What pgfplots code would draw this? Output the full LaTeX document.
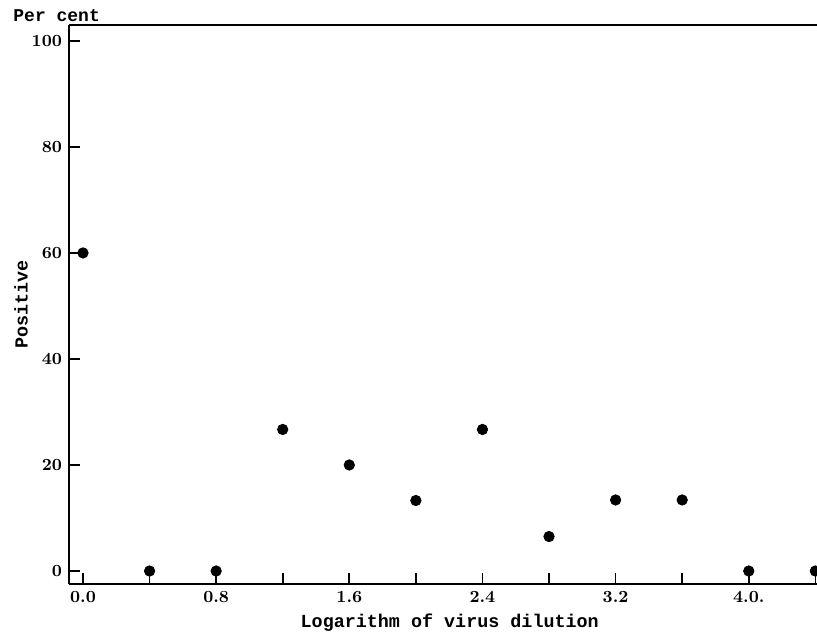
\documentclass[border=0pt]{standalone}
\usepackage{fontspec}
\usepackage{pgfplots}
\pgfplotsset{compat=1.18}
\newfontfamily\labfont{Liberation Mono}
\begin{document}
\begin{tikzpicture}
\begin{axis}[
  name=ax,
  scale only axis=true,
  width=374pt, height=279.5pt,
  xmin=-0.084, xmax=4.41,
  ymin=-2.45, ymax=103,
  axis lines=left,
  axis line style={-, line width=1pt},
  clip=false,
  xtick={0,0.4,0.8,1.2,1.6,2.0,2.4,2.8,3.2,3.6,4.0,4.4},
  xticklabels={0.0,,0.8,,1.6,,2.4,,3.2,,4.0.,},
  ytick={0,20,40,60,80,100},
  tick align=inside,
  major tick length=5.5pt,
  tick style={line width=0.8pt, black},
  /pgf/number format/assume math mode=true,
  tick label style={font=\fontsize{8.5}{10}\selectfont\bfseries},
  xlabel={Logarithm of virus dilution},
  ylabel={Positive},
  xlabel style={at={(axis description cs:0.509,-0.07)}, anchor=center},
  ylabel style={at={(axis description cs:-0.064,0.5)}, anchor=center},
  label style={font=\labfont\bfseries\fontsize{9.2}{10}\selectfont},
]
\addplot[only marks, mark=*, mark size=2.6pt, black] coordinates {
 (0.0,60) (0.4,0) (0.8,0) (1.2,26.7) (1.6,20) (2.0,13.3)
 (2.4,26.7) (2.8,6.5) (3.2,13.4) (3.6,13.4) (4.0,0) (4.4,0)
};
\draw[line width=1pt] (rel axis cs:0,1) -- (rel axis cs:1,1);
\node[anchor=base west, font=\labfont\bfseries\fontsize{9}{10}\selectfont, inner sep=0pt] at ([xshift=-28pt,yshift=1.5pt]rel axis cs:0,1) {Per cent};
\end{axis}
\pgfresetboundingbox
\path (ax.south west) +(-34.5pt,-28pt) (ax.north east) +(0pt,12.5pt);
\end{tikzpicture}
\end{document}
